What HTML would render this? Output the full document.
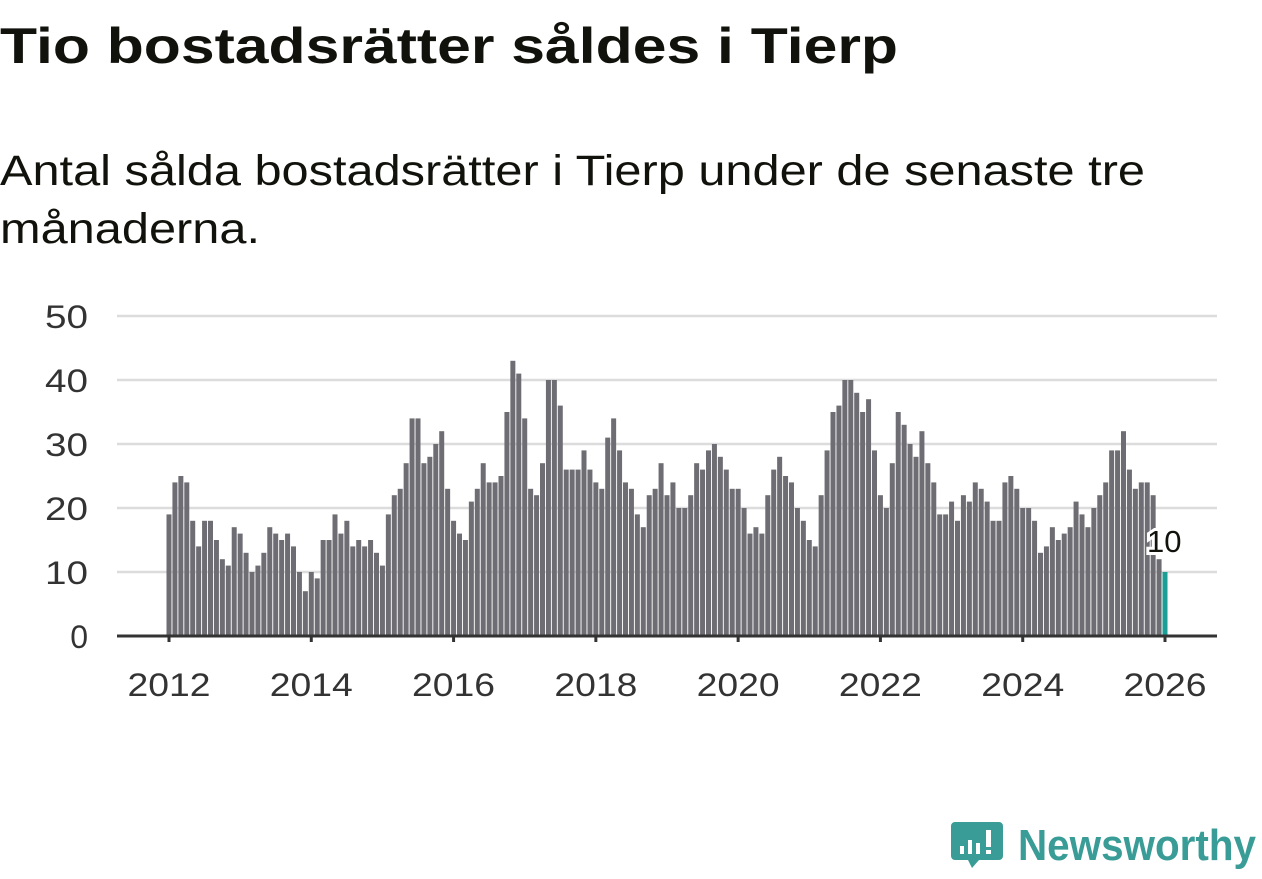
<!DOCTYPE html>
<html><head><meta charset="utf-8"><style>
html,body{margin:0;padding:0;background:#fff;}
svg{display:block;font-family:"Liberation Sans",sans-serif;}
</style></head><body>
<svg id="chart" width="1262" height="879" viewBox="0 0 1262 879" xmlns="http://www.w3.org/2000/svg">
<text x="0" y="63" font-size="50" font-weight="bold" fill="#12120d" textLength="898" lengthAdjust="spacingAndGlyphs">Tio bostadsrätter såldes i Tierp</text>
<text x="0" y="185" font-size="43" fill="#12120d" textLength="1145" lengthAdjust="spacingAndGlyphs">Antal sålda bostadsrätter i Tierp under de senaste tre</text>
<text x="0" y="243" font-size="43" fill="#12120d" textLength="260" lengthAdjust="spacingAndGlyphs">månaderna.</text>
<g id="grid"></g><g id="bars"></g><g id="axes"></g>
<g>
<path d="M955 822 h44 a4 4 0 0 1 4 4 v30 a4 4 0 0 1 -4 4 h-20 l-7 8 l-4 -8 h-13 a4 4 0 0 1 -4 -4 v-30 a4 4 0 0 1 4 -4z" fill="#3a9c96"/>
<rect x="960" y="846" width="4" height="8" fill="#fff"/><rect x="968" y="840" width="4" height="14" fill="#fff"/><rect x="976" y="843" width="4" height="11" fill="#fff"/><rect x="986" y="830" width="5" height="17" fill="#fff"/><rect x="986" y="850" width="5" height="4" fill="#fff"/>
<text x="1018" y="860" font-size="44" font-weight="bold" fill="#3a9c96" textLength="238" lengthAdjust="spacingAndGlyphs">Newsworthy</text>
</g>
</svg>
<script>
const yTicks=[0,10,20,30,40,50];
const xTickLabels=["2012","2014","2016","2018","2020","2022","2024","2026"];
const startYear=2012;
const values=[
19,24,25,24,18,14,18,18,15,12,11,17,
16,13,10,11,13,17,16,15,16,14,10,7,
10,9,15,15,19,16,18,14,15,14,15,13,
11,19,22,23,27,34,34,27,28,30,32,23,
18,16,15,21,23,27,24,24,25,35,43,41,
34,23,22,27,40,40,36,26,26,26,29,26,
24,23,31,34,29,24,23,19,17,22,23,27,
22,24,20,20,22,27,26,29,30,28,26,23,
23,20,16,17,16,22,26,28,25,24,20,18,
15,14,22,29,35,36,40,40,38,35,37,29,
22,20,27,35,33,30,28,32,27,24,19,19,
21,18,22,21,24,23,21,18,18,24,25,23,
20,20,18,13,14,17,15,16,17,21,19,17,
20,22,24,29,29,32,26,23,24,24,22,12,
10];
const NS="http://www.w3.org/2000/svg";
const x0=169,x1=1165,y0=636,y50=316;
function xs(i){return x0+(x1-x0)*i/168;}
function ys(v){return y0-(y0-y50)*v/50;}
function mk(t,a,p){const e=document.createElementNS(NS,t);for(const k in a)e.setAttribute(k,a[k]);p.appendChild(e);return e;}
const grid=document.getElementById('grid'),bars=document.getElementById('bars'),axes=document.getElementById('axes');
yTicks.forEach(v=>{
 if(v>0){const l=mk('line',{x1:117,x2:1217,y1:ys(v),y2:ys(v),stroke:'#dcdcdc','stroke-width':2.5},grid);
 
 }
 const s=String(v);
 const attrs={x:88,y:ys(v)+12,'text-anchor':'end','font-size':32,fill:'#333'};
 if(s.length===2){attrs.textLength=43;attrs.lengthAdjust='spacingAndGlyphs';}
 const t=mk('text',attrs,axes);
 t.textContent=s;
 
 
});
values.forEach((v,i)=>{
 const last=i===values.length-1;
 const r=mk('rect',{x:xs(i)-2.5,y:ys(v),width:5,height:y0-ys(v),fill:last?'#1a9e95':'#6e6d73'},bars);
 
 
});
const li=values.length-1;
const lab=mk('text',{x:xs(li)-18,y:ys(values[li])-20,'font-size':31,fill:'#12120d',stroke:'#fff','stroke-width':6,'paint-order':'stroke'},axes);
lab.textContent=values[li];


const ax=mk('line',{x1:117,x2:1217,y1:y0,y2:y0,stroke:'#333','stroke-width':3},axes);


xTickLabels.forEach((s,k)=>{
 const i=(parseInt(s)-startYear)*12;
 const tk=mk('line',{x1:xs(i),x2:xs(i),y1:y0,y2:y0+6,stroke:'#333','stroke-width':3},axes);
 
 
 const t=mk('text',{x:xs(i),y:696,'text-anchor':'middle','font-size':32,fill:'#333',textLength:83,lengthAdjust:'spacingAndGlyphs'},axes);
 t.textContent=s;
 
 
});
</script>
</body></html>
